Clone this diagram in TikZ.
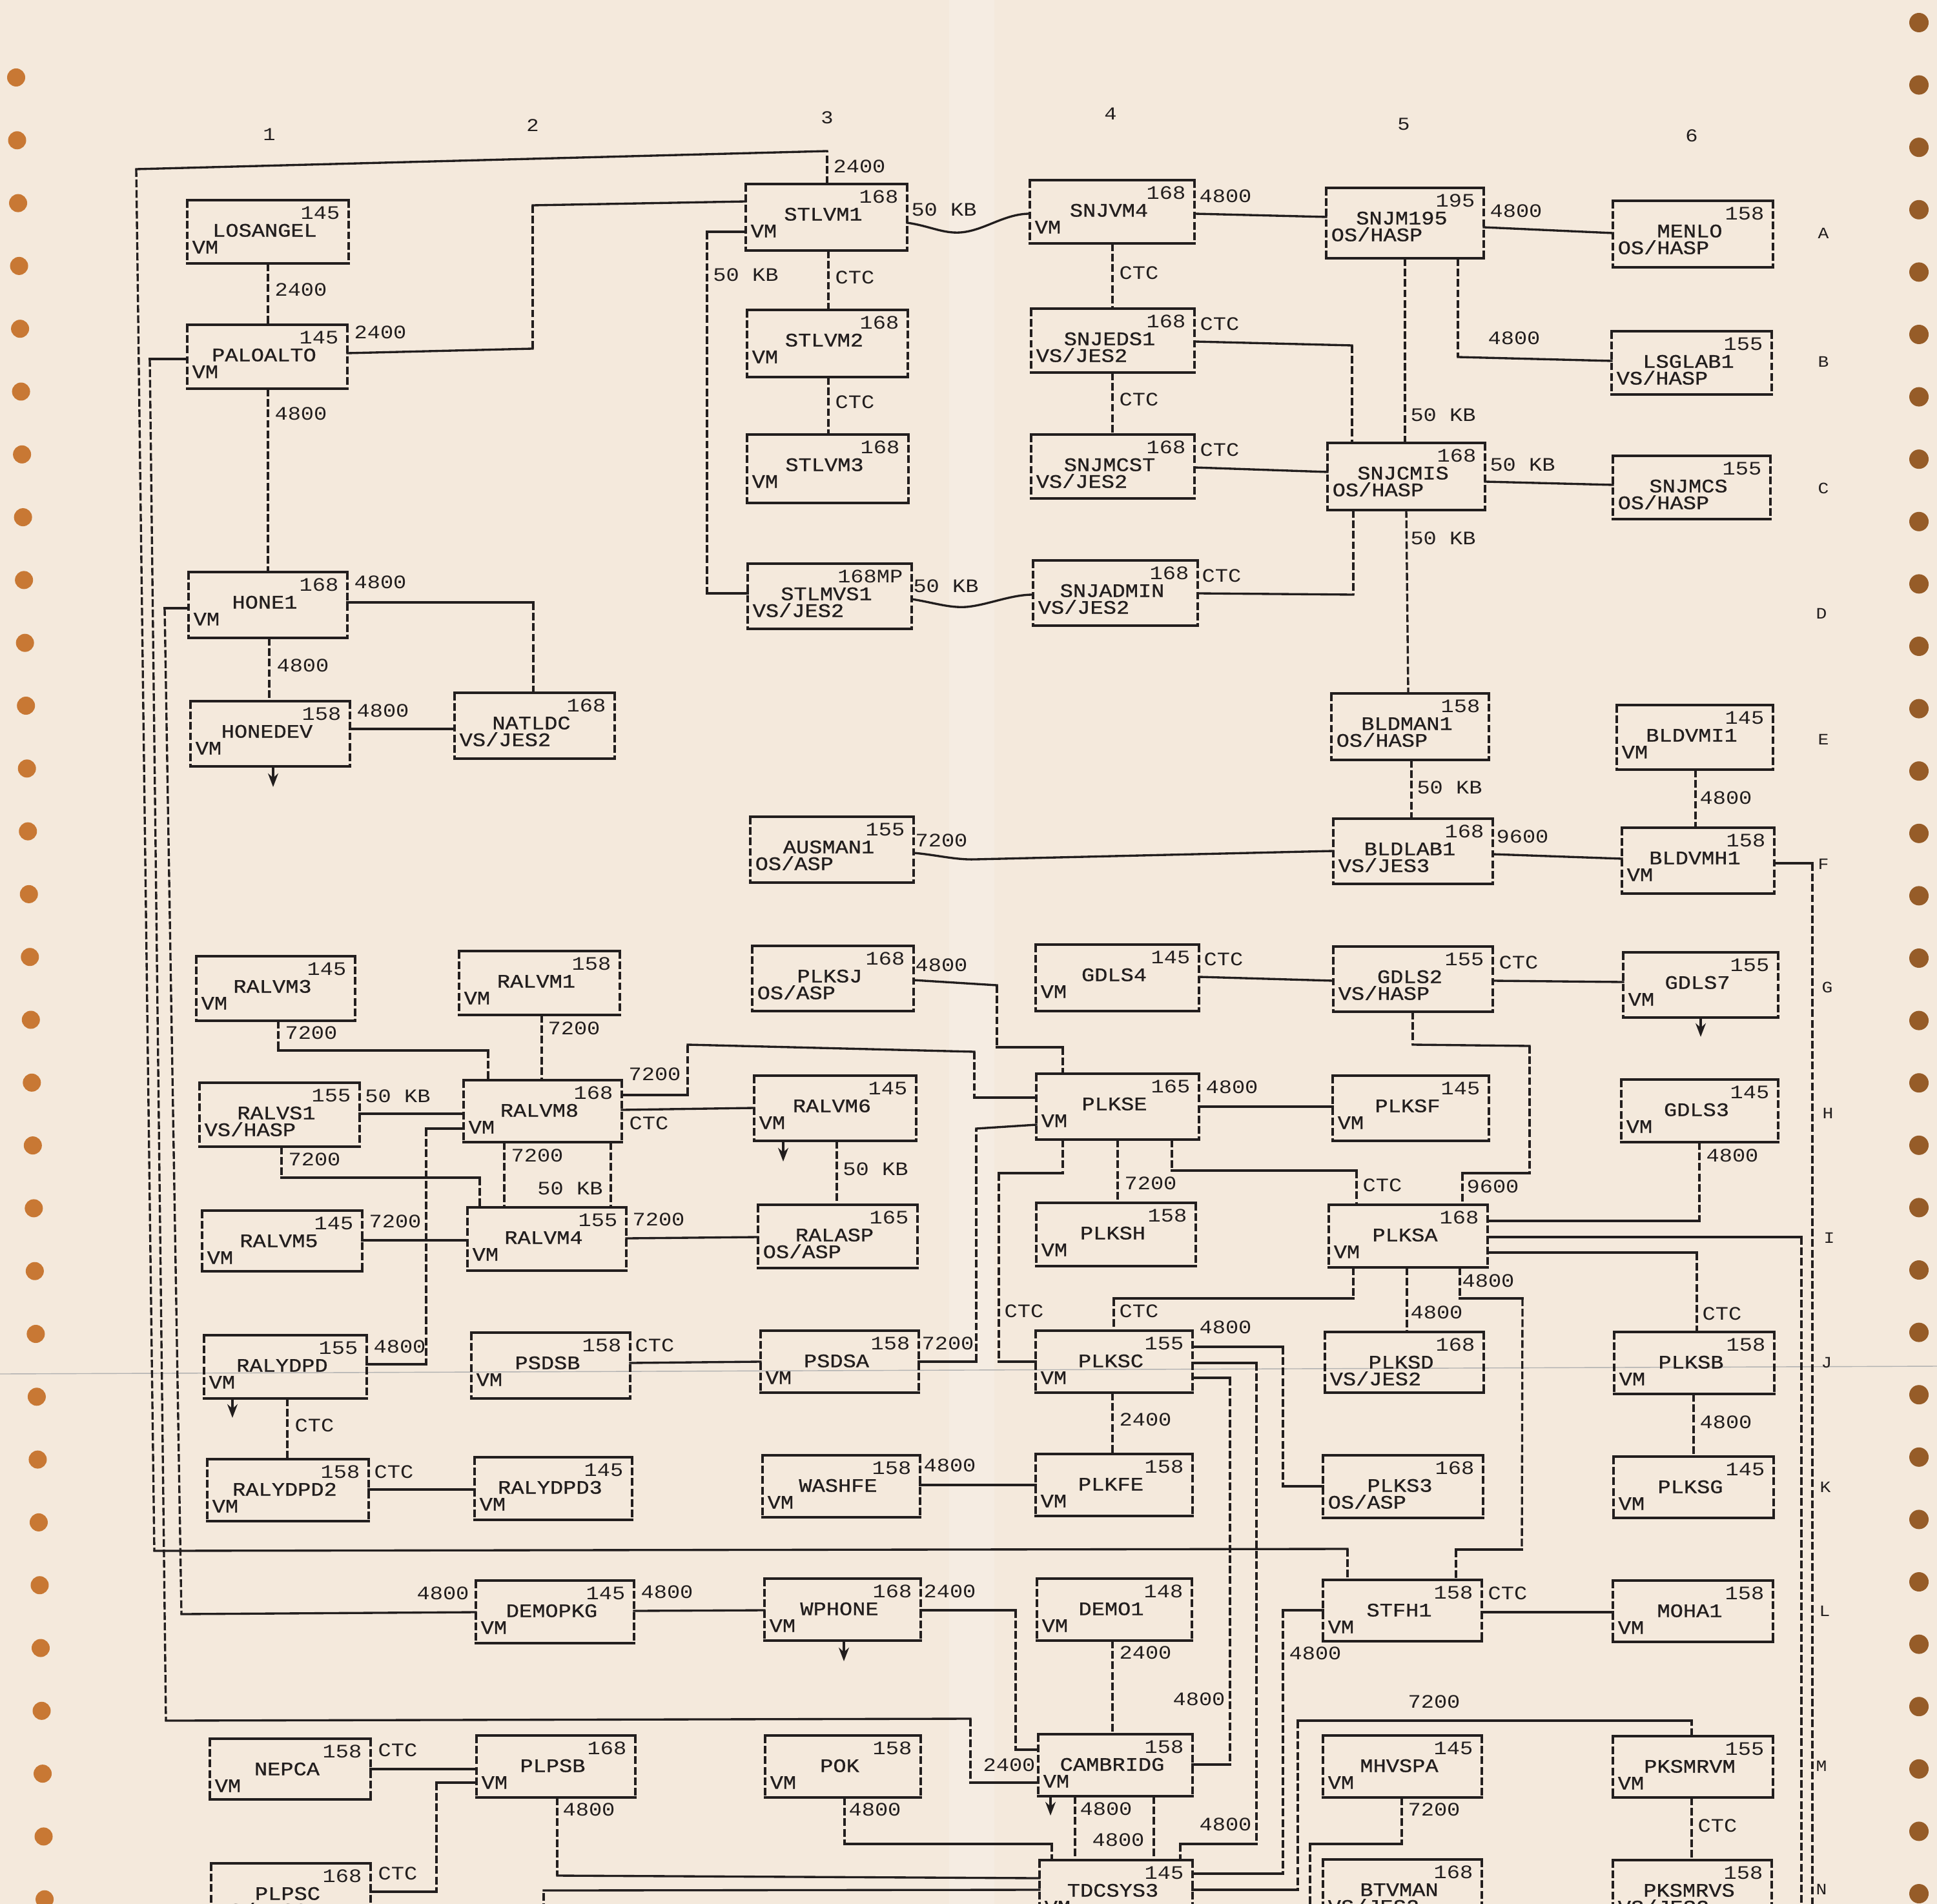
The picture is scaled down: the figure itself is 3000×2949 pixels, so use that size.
\documentclass[tikz,border=0pt]{standalone}
\usepackage{fontspec}
\newfontfamily\pf[FakeStretch=1.14]{Liberation Mono}
\newfontfamily\pfb[FakeStretch=1.14,FakeBold=0.8]{Liberation Mono}
\usetikzlibrary{fit,arrows.meta}
\definecolor{paper}{RGB}{244,233,220}
\definecolor{ink}{RGB}{34,30,30}
\definecolor{holeL}{RGB}{200,120,52}
\definecolor{holeR}{RGB}{150,92,40}

\tikzset{
  hl/.style={draw=ink, line width=0.95pt, line cap=rect},
  vl/.style={draw=ink, line width=0.95pt, dash pattern=on 3.4pt off 1.2pt},
  boxn/.style={rectangle, inner sep=0pt, outer sep=0pt, draw=none},
  numt/.style={inner sep=0pt, text=ink, font=\pf\fontsize{8.4}{9}\selectfont},
  namet/.style={inner sep=0pt, text=ink, font=\pfb\fontsize{8.4}{9}\selectfont},
  ost/.style={inner sep=0pt, text=ink, font=\pfb\fontsize{8.4}{9}\selectfont},
  labt/.style={inner sep=0pt, anchor=mid, text=ink, font=\pf\fontsize{8.4}{9}\selectfont},
  colt/.style={inner sep=0pt, anchor=mid, text=ink, font=\pf\fontsize{8}{9}\selectfont},
  rowt/.style={inner sep=0pt, anchor=mid, text=ink, font=\pf\fontsize{7}{8}\selectfont},
  arr/.style={draw=ink, line width=0.95pt, -{Stealth[length=6pt,width=4.5pt]}},
}
% horizontal (solid) and vertical (dashed) wire segments
\newcommand\hs[2]{\draw[hl] #1 -- #2;}
\newcommand\vs[2]{\draw[vl] #1 -- #2;}

\newcommand\sysbox[8]{%
  \node[boxn, fit={(#2,#3) (#4,#5)}] (#1) {};
  \draw[hl] (#1.north west) -- (#1.north east) (#1.south west) -- (#1.south east);
  \draw[vl] (#1.north west) -- (#1.south west) (#1.north east) -- (#1.south east);
  \node[numt, anchor=mid east] (#1-num) at ([shift={(-13,22)}]#1.north east) {#6};
  \node[namet, anchor=mid] (#1-name) at ([shift={(-5,49)}]#1.north) {#7};
  \node[ost, anchor=mid west] (#1-os) at ([shift={(7,75)}]#1.north west) {#8};
}
\newcommand\clab[4]{\node[labt] (#1) at (#2,#3) {#4};}

\begin{document}
\begin{tikzpicture}[x=0.01cm,y=-0.01cm]
\useasboundingbox (0,0) rectangle (3000,2949);
\clip (0,0) rectangle (3000,2949);
\fill[paper] (0,0) rectangle (3000,2949);
\fill[white,opacity=0.18] (1470,0) rectangle (1540,2949);
\draw[black!30, line width=0.4pt] (0,2128) -- (3000,2116);
\foreach \i in {0,...,29} \fill[holeL] (25+1.52*\i, 120+97.3*\i) circle (14);
\foreach \i in {0,...,30} \fill[holeR] (2972, 35+96.6*\i) circle (15);

% column and row marks
\node[colt] (c1) at (417,210) {1};
\node[colt] (c2) at (825,196) {2};
\node[colt] (c3) at (1281,184) {3};
\node[colt] (c4) at (1720,178) {4};
\node[colt] (c5) at (2174,194) {5};
\node[colt] (c6) at (2620,212) {6};
\node[rowt] (rA) at (2824,362) {A};
\node[rowt] (rB) at (2824,561) {B};
\node[rowt] (rC) at (2824,757) {C};
\node[rowt] (rD) at (2821,951) {D};
\node[rowt] (rE) at (2824,1146) {E};
\node[rowt] (rF) at (2824,1339) {F};
\node[rowt] (rG) at (2830,1530) {G};
\node[rowt] (rH) at (2831,1725) {H};
\node[rowt] (rI) at (2833,1918) {I};
\node[rowt] (rJ) at (2829,2111) {J};
\node[rowt] (rK) at (2827,2304) {K};
\node[rowt] (rL) at (2826,2496) {L};
\node[rowt] (rM) at (2821,2736) {M};
\node[rowt] (rN) at (2821,2927) {N};

% boxes
\sysbox{losangel}{290}{310}{540}{408}{145}{LOSANGEL}{VM}
\sysbox{paloalto}{290}{503}{538}{602}{145}{PALOALTO}{VM}
\sysbox{hone1}{292}{886}{538}{988}{168}{HONE1}{VM}
\sysbox{honedev}{295}{1086}{542}{1187}{158}{HONEDEV}{VM}
\sysbox{natldc}{704}{1073}{952}{1175}{168}{NATLDC}{VS/JES2}
\sysbox{stlvm1}{1155}{285}{1405}{388}{168}{STLVM1}{VM}
\sysbox{stlvm2}{1157}{480}{1406}{584}{168}{STLVM2}{VM}
\sysbox{stlvm3}{1157}{673}{1407}{779}{168}{STLVM3}{VM}
\sysbox{stlmvs1}{1158}{873}{1412}{974}{168MP}{STLMVS1}{VS/JES2}
\sysbox{snjvm4}{1595}{279}{1850}{377}{168}{SNJVM4}{VM}
\sysbox{snjeds1}{1597}{478}{1850}{577}{168}{SNJEDS1}{VS/JES2}
\sysbox{snjmcst}{1597}{673}{1850}{772}{168}{SNJMCST}{VS/JES2}
\sysbox{snjadmin}{1600}{868}{1855}{969}{168}{SNJADMIN}{VS/JES2}
\sysbox{snjm195}{2054}{291}{2298}{400}{195}{SNJM195}{OS/HASP}
\sysbox{snjcmis}{2056}{686}{2300}{790}{168}{SNJCMIS}{OS/HASP}
\sysbox{menlo}{2498}{311}{2746}{414}{158}{MENLO}{OS/HASP}
\sysbox{lsglab1}{2496}{513}{2744}{611}{155}{LSGLAB1}{VS/HASP}
\sysbox{snjmcs}{2498}{706}{2742}{804}{155}{SNJMCS}{OS/HASP}
\sysbox{bldman1}{2062}{1074}{2306}{1177}{158}{BLDMAN1}{OS/HASP}
\sysbox{bldlab1}{2065}{1268}{2312}{1369}{168}{BLDLAB1}{VS/JES3}
\sysbox{bldvmi1}{2504}{1092}{2746}{1192}{145}{BLDVMI1}{VM}
\sysbox{bldvmh1}{2512}{1282}{2748}{1384}{158}{BLDVMH1}{VM}
\sysbox{ausman1}{1162}{1265}{1415}{1367}{155}{AUSMAN1}{OS/ASP}
\sysbox{plksj}{1165}{1465}{1415}{1566}{168}{PLKSJ}{OS/ASP}
\sysbox{gdls4}{1604}{1463}{1857}{1566}{145}{GDLS4}{VM}
\sysbox{gdls2}{2065}{1466}{2312}{1567}{155}{GDLS2}{VS/HASP}
\sysbox{gdls7}{2514}{1475}{2754}{1576}{155}{GDLS7}{VM}
\sysbox{ralvm3}{304}{1481}{550}{1581}{145}{RALVM3}{VM}
\sysbox{ralvm1}{711}{1473}{960}{1572}{158}{RALVM1}{VM}
\sysbox{ralvs1}{309}{1677}{557}{1776}{155}{RALVS1}{VS/HASP}
\sysbox{ralvm8}{718}{1673}{963}{1769}{168}{RALVM8}{VM}
\sysbox{ralvm5}{313}{1875}{561}{1969}{145}{RALVM5}{VM}
\sysbox{ralvm4}{724}{1870}{970}{1968}{155}{RALVM4}{VM}
\sysbox{ralvm6}{1168}{1666}{1419}{1767}{145}{RALVM6}{VM}
\sysbox{ralasp}{1174}{1866}{1421}{1964}{165}{RALASP}{OS/ASP}
\sysbox{plkse}{1605}{1663}{1857}{1765}{165}{PLKSE}{VM}
\sysbox{plksh}{1605}{1863}{1852}{1961}{158}{PLKSH}{VM}
\sysbox{plksf}{2064}{1666}{2306}{1767}{145}{PLKSF}{VM}
\sysbox{gdls3}{2511}{1672}{2754}{1769}{145}{GDLS3}{VM}
\sysbox{plksa}{2058}{1866}{2304}{1963}{168}{PLKSA}{VM}
\sysbox{ralydpd}{316}{2068}{568}{2166}{155}{RALYDPD}{VM}
\sysbox{psdsb}{730}{2064}{976}{2166}{158}{PSDSB}{VM}
\sysbox{psdsa}{1178}{2061}{1423}{2157}{158}{PSDSA}{VM}
\sysbox{plksc}{1604}{2061}{1847}{2157}{155}{PLKSC}{VM}
\sysbox{plksd}{2052}{2063}{2298}{2157}{168}{PLKSD}{VS/JES2}
\sysbox{plksb}{2500}{2063}{2748}{2159}{158}{PLKSB}{VM}
\sysbox{ralydpd2}{321}{2260}{571}{2356}{158}{RALYDPD2}{VM}
\sysbox{ralydpd3}{735}{2257}{979}{2354}{145}{RALYDPD3}{VM}
\sysbox{washfe}{1181}{2254}{1425}{2350}{158}{WASHFE}{VM}
\sysbox{plkfe}{1604}{2252}{1847}{2348}{158}{PLKFE}{VM}
\sysbox{plks3}{2049}{2254}{2297}{2351}{168}{PLKS3}{OS/ASP}
\sysbox{plksg}{2499}{2256}{2747}{2351}{145}{PLKSG}{VM}
\sysbox{demopkg}{737}{2448}{982}{2545}{145}{DEMOPKG}{VM}
\sysbox{wphone}{1184}{2445}{1426}{2541}{168}{WPHONE}{VM}
\sysbox{demo1}{1606}{2445}{1846}{2541}{148}{DEMO1}{VM}
\sysbox{stfh1}{2049}{2447}{2295}{2542}{158}{STFH1}{VM}
\sysbox{moha1}{2498}{2448}{2746}{2543}{158}{MOHA1}{VM}
\sysbox{nepca}{325}{2693}{574}{2787}{158}{NEPCA}{VM}
\sysbox{plpsb}{738}{2688}{984}{2784}{168}{PLPSB}{VM}
\sysbox{pok}{1185}{2688}{1426}{2784}{158}{POK}{VM}
\sysbox{cambridg}{1608}{2686}{1847}{2782}{158}{CAMBRIDG}{VM}
\sysbox{mhvspa}{2049}{2688}{2295}{2784}{145}{MHVSPA}{VM}
\sysbox{pksmrvm}{2498}{2689}{2746}{2784}{155}{PKSMRVM}{VM}
\sysbox{plpsc}{327}{2886}{574}{2982}{168}{PLPSC}{VS/JES2}
\sysbox{tdcsys3}{1610}{2881}{1847}{2978}{145}{TDCSYS3}{VM}
\sysbox{btvman}{2049}{2880}{2295}{2977}{168}{BTVMAN}{VS/JES2}
\sysbox{pksmrvs}{2498}{2881}{2744}{2977}{158}{PKSMRVS}{VS/JES2}

% free ends at the page edge
\coordinate (offR1) at (2807,2960);
\coordinate (offR2) at (2790,2960);
\coordinate (offB1) at (2029,2960);
\coordinate (offB2) at (842,2960);

% connectors (horizontal runs solid, vertical runs dashed)
\vs{(losangel.south -| 415,0)}{(paloalto.north -| 415,0)}
\hs{(paloalto.east |- 0,547)}{(825,540)} \vs{(825,540)}{(825,318)} \hs{(825,318)}{(stlvm1.west |- 0,312)}
\vs{(stlvm1.north -| 1281,0)}{(1281,234)} \hs{(1281,234)}{(211,262)} \vs{(211,262)}{(239,2402)} \hs{(239,2402)}{(2087,2399)} \vs{(2087,2399)}{(stfh1.north -| 2087,0)}
\hs{(paloalto.west |- 0,556)}{(232,556)} \vs{(232,556)}{(257,2665)} \hs{(257,2665)}{(1503,2662)} \vs{(1503,2662)}{(1503,2761)} \hs{(1503,2761)}{(cambridg.west |- 0,2761)}
\hs{(hone1.west |- 0,942)}{(255,942)} \vs{(255,942)}{(281,2500)} \hs{(281,2500)}{(demopkg.west |- 0,2497)}
\vs{(paloalto.south -| 415,0)}{(hone1.north -| 415,0)}
\hs{(hone1.east |- 0,933)}{(826,933)} \vs{(826,933)}{(natldc.north -| 826,0)}
\vs{(hone1.south -| 417,0)}{(honedev.north -| 417,0)}
\hs{(honedev.east |- 0,1129)}{(natldc.west |- 0,1129)}
\draw[arr] (honedev.south -| 423,0) -- ++(0,32);
\draw[hl] (stlvm1.east |- 0,345) .. controls (1440,350) and (1460,362) .. (1488,360) .. controls (1525,357) and (1555,331) .. (snjvm4.west |- 0,331);
\hs{(stlvm1.west |- 0,359)}{(1095,359)} \vs{(1095,359)}{(1095,919)} \hs{(1095,919)}{(stlmvs1.west |- 0,919)}
\vs{(stlvm1.south -| 1283,0)}{(stlvm2.north -| 1283,0)}
\vs{(stlvm2.south -| 1283,0)}{(stlvm3.north -| 1283,0)}
\hs{(snjvm4.east |- 0,331)}{(snjm195.west |- 0,336)}
\vs{(snjvm4.south -| 1723,0)}{(snjeds1.north -| 1723,0)}
\vs{(snjeds1.south -| 1723,0)}{(snjmcst.north -| 1723,0)}
\hs{(snjeds1.east |- 0,529)}{(2094,535)} \vs{(2094,535)}{(snjcmis.north -| 2094,0)}
\hs{(snjmcst.east |- 0,724)}{(snjcmis.west |- 0,731)}
\hs{(snjm195.east |- 0,352)}{(menlo.west |- 0,361)}
\vs{(snjm195.south -| 2258,0)}{(2258,553)} \hs{(2258,553)}{(lsglab1.west |- 0,559)}
\vs{(snjm195.south -| 2176,0)}{(snjcmis.north -| 2176,0)}
\hs{(snjcmis.east |- 0,746)}{(snjmcs.west |- 0,751)}
\vs{(snjcmis.south -| 2096,0)}{(2096,921)} \hs{(2096,921)}{(snjadmin.east |- 0,919)}
\vs{(snjcmis.south -| 2178,0)}{(bldman1.north -| 2181,0)}
\draw[hl] (stlmvs1.east |- 0,928) .. controls (1445,933) and (1470,942) .. (1497,940) .. controls (1530,937) and (1565,921) .. (snjadmin.west |- 0,921);
\vs{(bldman1.south -| 2186,0)}{(bldlab1.north -| 2186,0)}
\draw[hl] (ausman1.east |- 0,1321) .. controls (1450,1324) and (1480,1332) .. (1510,1331) -- (bldlab1.west |- 0,1318);
\hs{(bldlab1.east |- 0,1323)}{(bldvmh1.west |- 0,1330)}
\vs{(bldvmi1.south -| 2626,0)}{(bldvmh1.north -| 2626,0)}
\hs{(bldvmh1.east |- 0,1337)}{(2807,1337)} \vs{(2807,1337)}{(offR1)}
\hs{(gdls4.east |- 0,1513)}{(gdls2.west |- 0,1519)}
\hs{(gdls2.east |- 0,1519)}{(gdls7.west |- 0,1521)}
\draw[arr] (gdls7.south -| 2634,0) -- ++(0,30);
\vs{(gdls2.south -| 2188,0)}{(2188,1618)} \hs{(2188,1618)}{(2369,1620)} \vs{(2369,1620)}{(2369,1817)} \hs{(2369,1817)}{(2265,1817)} \vs{(2265,1817)}{(plksa.north -| 2265,0)}
\hs{(plksj.east |- 0,1518)}{(1544,1526)} \vs{(1544,1526)}{(1544,1622)} \hs{(1544,1622)}{(1646,1622)} \vs{(1646,1622)}{(plkse.north -| 1646,0)}
\hs{(ralvm8.east |- 0,1696)}{(1065,1696)} \vs{(1065,1696)}{(1065,1618)} \hs{(1065,1618)}{(1509,1629)} \vs{(1509,1629)}{(1509,1700)} \hs{(1509,1700)}{(plkse.west |- 0,1700)}
\hs{(ralvm8.east |- 0,1719)}{(ralvm6.west |- 0,1716)}
\draw[arr] (ralvm6.south -| 1213,0) -- ++(0,32);
\vs{(ralvm6.south -| 1296,0)}{(ralasp.north -| 1296,0)}
\hs{(ralvm4.east |- 0,1918)}{(ralasp.west |- 0,1916)}
\hs{(psdsa.east |- 0,2109)}{(1512,2109)} \vs{(1512,2109)}{(1512,1748)} \hs{(1512,1748)}{(plkse.west |- 0,1742)}
\hs{(psdsb.east |- 0,2111)}{(psdsa.west |- 0,2109)}
\vs{(plkse.south -| 1646,0)}{(1646,1817)} \hs{(1646,1817)}{(1547,1817)} \vs{(1547,1817)}{(1547,2109)} \hs{(1547,2109)}{(plksc.west |- 0,2109)}
\vs{(plkse.south -| 1731,0)}{(plksh.north -| 1731,0)}
\vs{(plkse.south -| 1815,0)}{(1815,1813)} \hs{(1815,1813)}{(2101,1813)} \vs{(2101,1813)}{(plksa.north -| 2101,0)}
\hs{(plkse.east |- 0,1714)}{(plksf.west |- 0,1714)}
\vs{(gdls3.south -| 2632,0)}{(2632,1891)} \hs{(2632,1891)}{(plksa.east |- 0,1891)}
\hs{(plksa.east |- 0,1916)}{(2790,1916)} \vs{(2790,1916)}{(offR2)}
\hs{(plksa.east |- 0,1940)}{(2628,1940)} \vs{(2628,1940)}{(plksb.north -| 2628,0)}
\vs{(plksa.south -| 2096,0)}{(2096,2011)} \hs{(2096,2011)}{(1725,2011)} \vs{(1725,2011)}{(plksc.north -| 1725,0)}
\vs{(plksa.south -| 2179,0)}{(plksd.north -| 2179,0)}
\vs{(plksa.south -| 2261,0)}{(2261,2011)} \hs{(2261,2011)}{(2358,2011)} \vs{(2358,2011)}{(2357,2400)} \hs{(2357,2400)}{(2255,2400)} \vs{(2255,2400)}{(stfh1.north -| 2255,0)}
\hs{(plksc.east |- 0,2086)}{(1987,2086)} \vs{(1987,2086)}{(1987,2302)} \hs{(1987,2302)}{(plks3.west |- 0,2302)}
\hs{(plksc.east |- 0,2111)}{(1946,2111)} \vs{(1946,2111)}{(1946,2856)} \hs{(1946,2856)}{(1828,2856)} \vs{(1828,2856)}{(tdcsys3.north -| 1828,0)}
\hs{(plksc.east |- 0,2134)}{(1905,2134)} \vs{(1905,2134)}{(1905,2733)} \hs{(1905,2733)}{(cambridg.east |- 0,2733)}
\vs{(plksc.south -| 1723,0)}{(plkfe.north -| 1723,0)}
\vs{(plksb.south -| 2623,0)}{(plksg.north -| 2623,0)}
\vs{(ralvm3.south -| 431,0)}{(431,1627)} \hs{(431,1627)}{(756,1627)} \vs{(756,1627)}{(ralvm8.north -| 756,0)}
\vs{(ralvm1.south -| 839,0)}{(ralvm8.north -| 839,0)}
\hs{(ralvs1.east |- 0,1725)}{(ralvm8.west |- 0,1725)}
\vs{(ralvs1.south -| 436,0)}{(436,1824)} \hs{(436,1824)}{(743,1824)} \vs{(743,1824)}{(ralvm4.north -| 743,0)}
\vs{(ralvm8.south -| 781,0)}{(ralvm4.north -| 781,0)}
\vs{(ralvm8.south -| 946,0)}{(ralvm4.north -| 946,0)}
\hs{(ralvm5.east |- 0,1921)}{(ralvm4.west |- 0,1921)}
\hs{(ralvm8.west |- 0,1748)}{(660,1748)} \vs{(660,1748)}{(660,2113)} \hs{(660,2113)}{(ralydpd.east |- 0,2113)}
\draw[arr] (ralydpd.south -| 360,0) -- ++(0,30);
\vs{(ralydpd.south -| 445,0)}{(ralydpd2.north -| 445,0)}
\hs{(ralydpd2.east |- 0,2307)}{(ralydpd3.west |- 0,2307)}
\hs{(washfe.east |- 0,2300)}{(plkfe.west |- 0,2300)}
\hs{(demopkg.east |- 0,2495)}{(wphone.west |- 0,2494)}
\hs{(wphone.east |- 0,2494)}{(1573,2494)} \vs{(1573,2494)}{(1573,2710)} \hs{(1573,2710)}{(cambridg.west |- 0,2710)}
\draw[arr] (wphone.south -| 1307,0) -- ++(0,32);
\vs{(demo1.south -| 1723,0)}{(cambridg.north -| 1723,0)}
\hs{(stfh1.east |- 0,2497)}{(moha1.west |- 0,2497)}
\hs{(stfh1.west |- 0,2494)}{(1987,2494)} \vs{(1987,2494)}{(1987,2902)} \hs{(1987,2902)}{(tdcsys3.east |- 0,2902)}
\vs{(pksmrvm.north -| 2620,0)}{(2620,2665)} \hs{(2620,2665)}{(2010,2665)} \vs{(2010,2665)}{(2010,2927)} \hs{(2010,2927)}{(tdcsys3.east |- 0,2927)}
\vs{(mhvspa.south -| 2171,0)}{(2171,2856)} \hs{(2171,2856)}{(2029,2856)} \vs{(2029,2856)}{(offB1)}
\vs{(pksmrvm.south -| 2620,0)}{(pksmrvs.north -| 2620,0)}
\hs{(nepca.east |- 0,2740)}{(plpsb.west |- 0,2740)}
\hs{(plpsb.west |- 0,2761)}{(676,2761)} \vs{(676,2761)}{(676,2930)} \hs{(676,2930)}{(plpsc.east |- 0,2930)}
\vs{(plpsb.south -| 863,0)}{(863,2905)} \hs{(863,2905)}{(tdcsys3.west |- 0,2909)}
\vs{(pok.south -| 1308,0)}{(1308,2856)} \hs{(1308,2856)}{(1629,2856)} \vs{(1629,2856)}{(tdcsys3.north -| 1629,0)}
\vs{(offB2)}{(842,2928)} \hs{(842,2928)}{(tdcsys3.west |- 0,2927)}
\draw[arr] (cambridg.south -| 1627,0) -- ++(0,30);
\vs{(cambridg.south -| 1665,0)}{(tdcsys3.north -| 1665,0)}
\vs{(cambridg.south -| 1787,0)}{(tdcsys3.north -| 1787,0)}

% connector labels
\clab{l1}{466}{451}{2400}
\clab{l2}{589}{517}{2400}
\clab{l3}{1331}{260}{2400}
\clab{l4}{466}{643}{4800}
\clab{l5}{589}{904}{4800}
\clab{l6}{469}{1033}{4800}
\clab{l7}{593}{1103}{4800}
\clab{l8}{1462}{327}{50 KB}
\clab{l9}{1155}{428}{50 KB}
\clab{l10}{1324}{432}{CTC}
\clab{l11}{1324}{625}{CTC}
\clab{l12}{1898}{306}{4800}
\clab{l13}{1764}{425}{CTC}
\clab{l14}{1764}{621}{CTC}
\clab{l15}{1889}{504}{CTC}
\clab{l16}{1889}{699}{CTC}
\clab{l17}{2348}{329}{4800}
\clab{l18}{2345}{526}{4800}
\clab{l19}{2235}{645}{50 KB}
\clab{l20}{2358}{722}{50 KB}
\clab{l21}{2235}{836}{50 KB}
\clab{l22}{1892}{894}{CTC}
\clab{l23}{1465}{910}{50 KB}
\clab{l24}{2245}{1222}{50 KB}
\clab{l25}{1458}{1304}{7200}
\clab{l26}{2358}{1298}{9600}
\clab{l27}{2673}{1238}{4800}
\clab{l28}{1895}{1488}{CTC}
\clab{l29}{2352}{1493}{CTC}
\clab{l30}{2312}{1840}{9600}
\clab{l31}{1458}{1497}{4800}
\clab{l32}{1014}{1666}{7200}
\clab{l33}{1005}{1742}{CTC}
\clab{l34}{1356}{1813}{50 KB}
\clab{l35}{1020}{1891}{7200}
\clab{l36}{1468}{2083}{7200}
\clab{l37}{1014}{2086}{CTC}
\clab{l38}{1586}{2033}{CTC}
\clab{l39}{1782}{1835}{7200}
\clab{l40}{2141}{1838}{CTC}
\clab{l41}{1908}{1686}{4800}
\clab{l42}{2683}{1792}{4800}
\clab{l43}{2667}{2037}{CTC}
\clab{l44}{1764}{2033}{CTC}
\clab{l45}{2225}{2035}{4800}
\clab{l46}{2305}{1986}{4800}
\clab{l47}{1898}{2058}{4800}
\clab{l48}{1898}{2828}{4800}
\clab{l49}{1857}{2634}{4800}
\clab{l50}{1774}{2201}{2400}
\clab{l51}{2673}{2205}{4800}
\clab{l52}{482}{1602}{7200}
\clab{l53}{889}{1595}{7200}
\clab{l54}{616}{1700}{50 KB}
\clab{l55}{487}{1798}{7200}
\clab{l56}{832}{1792}{7200}
\clab{l57}{883}{1843}{50 KB}
\clab{l58}{612}{1894}{7200}
\clab{l59}{619}{2088}{4800}
\clab{l60}{487}{2210}{CTC}
\clab{l61}{610}{2282}{CTC}
\clab{l62}{1471}{2272}{4800}
\clab{l63}{1033}{2468}{4800}
\clab{l64}{686}{2470}{4800}
\clab{l65}{1471}{2467}{2400}
\clab{l66}{1774}{2562}{2400}
\clab{l67}{2335}{2470}{CTC}
\clab{l68}{2037}{2563}{4800}
\clab{l69}{2221}{2638}{7200}
\clab{l70}{2221}{2805}{7200}
\clab{l71}{2660}{2830}{CTC}
\clab{l72}{616}{2713}{CTC}
\clab{l73}{616}{2904}{CTC}
\clab{l74}{912}{2805}{4800}
\clab{l75}{1355}{2805}{4800}
\clab{l76}{1713}{2804}{4800}
\clab{l77}{1732}{2852}{4800}
\clab{l78}{1563}{2736}{2400}
\end{tikzpicture}
\end{document}
